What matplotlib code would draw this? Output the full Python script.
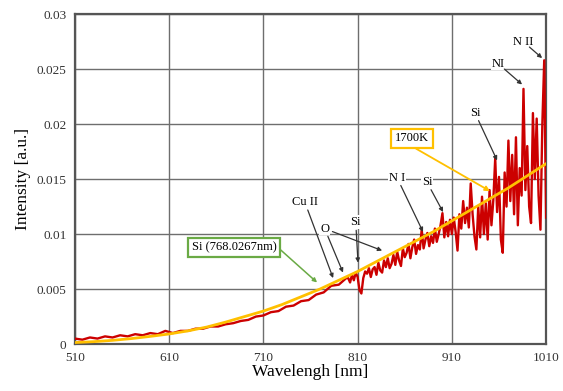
import numpy as np
import matplotlib.pyplot as plt

plt.rcParams['font.family'] = ['Liberation Serif', 'DejaVu Serif']

# measured spectrum, low range (8 nm steps)
wl_low = np.arange(510, 800, 8)
int_low = [0.0005, 0.0004, 0.0006, 0.0005, 0.0007, 0.0006, 0.0008, 0.0007, 0.0009,
           0.0008, 0.0010, 0.0009, 0.0012, 0.0010, 0.0012, 0.0012, 0.0014, 0.0014,
           0.0016, 0.0016, 0.0018, 0.0019, 0.0021, 0.0022, 0.0025, 0.0026, 0.0029,
           0.0030, 0.0034, 0.0035, 0.0039, 0.0040, 0.0045, 0.0047, 0.0053, 0.0054,
           0.0060]

# measured spectrum, high range (2 nm steps)
wl_high = np.arange(800, 1011, 2)
int_high = [0.0060, 0.0056, 0.0063, 0.0058, 0.0065, 0.0061, 0.0049, 0.0046, 0.0060, 0.0066,
            0.0064, 0.0069, 0.0061, 0.0068, 0.0070, 0.0063, 0.0074, 0.0067, 0.0065, 0.0076,
            0.0070, 0.0078, 0.0069, 0.0073, 0.0081, 0.0072, 0.0084, 0.0076, 0.0071, 0.0087,
            0.0079, 0.0083, 0.0091, 0.0078, 0.0088, 0.0095, 0.0082, 0.0090, 0.0086, 0.0104,
            0.0087, 0.0095, 0.0101, 0.0089, 0.0098, 0.0092, 0.0105, 0.0093, 0.0100, 0.0108,
            0.0119, 0.0097, 0.0111, 0.0098, 0.0113, 0.0100, 0.0115, 0.0102, 0.0085, 0.0118,
            0.0105, 0.0130, 0.0110, 0.0124, 0.0106, 0.0146, 0.0118, 0.0098, 0.0086, 0.0125,
            0.0097, 0.0134, 0.0100, 0.0128, 0.0095, 0.0140, 0.0108, 0.0131, 0.0169, 0.0120,
            0.0152, 0.0095, 0.0083, 0.0156, 0.0125, 0.0185, 0.0130, 0.0172, 0.0118, 0.0188,
            0.0108, 0.0160, 0.0135, 0.0232, 0.0140, 0.0180, 0.0125, 0.0110, 0.0210, 0.0150,
            0.0205, 0.0135, 0.0104, 0.0200, 0.0258, 0.0115]

# 1700K blackbody fit
wl_fit = np.arange(510, 1011, 20)
int_fit = [0.00014, 0.00022, 0.00034, 0.0005, 0.0007, 0.00092, 0.0012, 0.00155, 0.0020,
           0.0025, 0.0030, 0.0036, 0.0043, 0.0050, 0.0058, 0.0066, 0.0075, 0.0084, 0.0093,
           0.0102, 0.0112, 0.0122, 0.0132, 0.0142, 0.0153, 0.0164]

# line labels: (text, text position, arrow targets)
line_labels = [
    ("Cu II", (754, 0.0129), [(784, 0.0060)]),
    ("O", (775, 0.0105), [(794.5, 0.0065), (836, 0.0085)]),
    ("Si", (808, 0.0111), [(810.4, 0.0074)]),
    ("N I", (852, 0.0151), [(879.4, 0.0102)]),
    ("Si", (883.7, 0.0147), [(900.7, 0.0120)]),
    ("Si", (934.6, 0.0210), [(958, 0.0167)]),
    ("NI", (959, 0.0255), [(984.5, 0.0236)]),
    ("N II", (985.6, 0.0275), [(1005.8, 0.0260)]),
]

fig, ax = plt.subplots(figsize=(5.63, 3.91), dpi=100)
fig.subplots_adjust(left=0.133, right=0.970, bottom=0.120, top=0.964)

wl_spec = np.concatenate([wl_low, wl_high])
int_spec = np.concatenate([int_low, int_high])
ax.plot(wl_spec, int_spec, color='#cc0000', lw=1.7, zorder=3)
ax.plot(wl_fit, int_fit, color='#ffc000', lw=2.0, zorder=4)

ax.set_xlim(510, 1010)
ax.set_ylim(0, 0.03)
ax.set_xticks(np.arange(510, 1011, 100))
ax.set_yticks(np.arange(0, 0.0301, 0.005))
ax.set_yticklabels(['0', '0.005', '0.01', '0.015', '0.02', '0.025', '0.03'])
ax.tick_params(length=0, labelsize=9.5, colors='#333333', pad=6)
ax.grid(True, color='#6e6e6e', lw=1.0)
ax.set_axisbelow(True)
for s in ax.spines.values():
    s.set_color('#555555')
    s.set_linewidth(1.6)

ax.set_xlabel('Wavelengh [nm]', fontsize=12.5, labelpad=0)
ax.set_ylabel('Intensity [a.u.]', fontsize=12.5, labelpad=4)

arrow = dict(arrowstyle='-|>', color='#333333', lw=0.9, mutation_scale=6, shrinkA=1, shrinkB=0)
for text, pos, targets in line_labels:
    ax.text(pos[0], pos[1], text, fontsize=9, ha='center', va='center', zorder=6,
            bbox=dict(facecolor='white', edgecolor='none', pad=0.5))
    for tgt in targets:
        ax.annotate('', xy=tgt, xytext=pos, arrowprops=dict(arrow, shrinkA=6), zorder=6)

ax.annotate('1700K', xy=(950.6, 0.0139), xytext=(867.7, 0.0187), fontsize=9,
            ha='center', va='center', zorder=6,
            bbox=dict(facecolor='white', edgecolor='#ffc000', lw=1.6, pad=2.5),
            arrowprops=dict(arrowstyle='-|>', color='#ffc000', lw=1.3, mutation_scale=7,
                            shrinkA=0, shrinkB=0, relpos=(0.4, 0.0)))
ax.annotate('Si (768.0267nm)', xy=(767, 0.0056), xytext=(678.8, 0.0088), fontsize=9,
            ha='center', va='center', zorder=6,
            bbox=dict(facecolor='white', edgecolor='#6aaa45', lw=1.6, pad=2.5),
            arrowprops=dict(arrowstyle='-|>', color='#6aaa45', lw=1.1, mutation_scale=6,
                            shrinkA=0, shrinkB=0, relpos=(1.0, 0.6)))

fig.savefig('out.png', dpi=100)
